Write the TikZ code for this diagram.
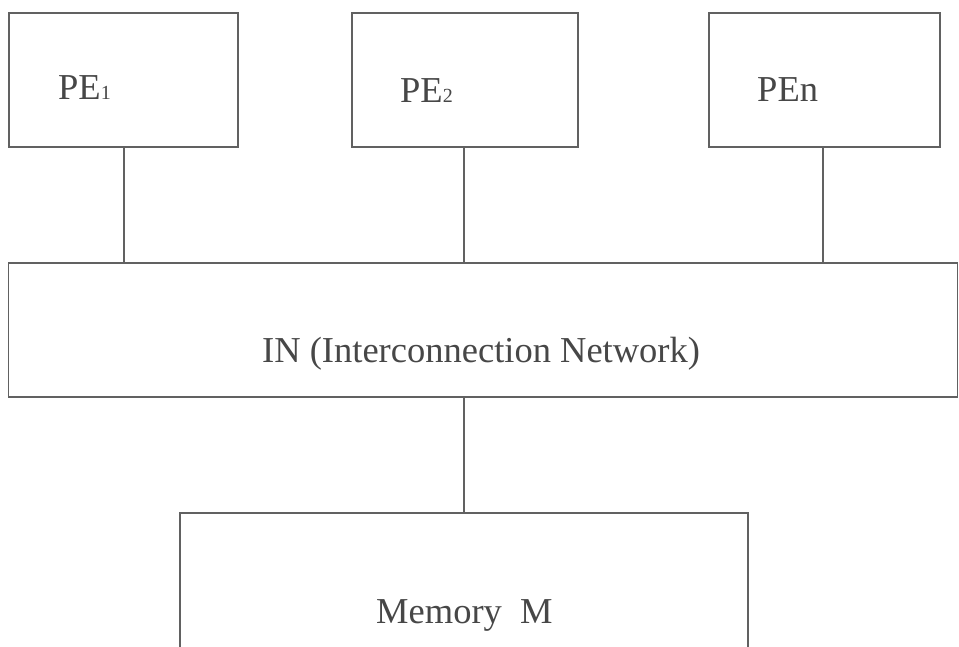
\documentclass[tikz,border=0pt]{standalone}
\usepackage{fontspec}
\setmainfont{Liberation Serif}
\begin{document}
\begin{tikzpicture}[x=1pt,y=1pt,
  box/.style={draw=black!62,line width=1.4pt,inner sep=0pt},
  lbl/.style={anchor=base west,inner sep=0pt,text=black!72,font=\fontsize{36.5}{40}\selectfont},
  wire/.style={draw=black!62,line width=1.2pt},
  sub/.style={}]
\clip (0,0) rectangle (959,646);
\fill[white] (0,0) rectangle (959,646);
% boxes (y = 646 - image y)
\node[box,minimum width=229pt,minimum height=134pt] (pe1) at (123.5,566) {};
\node[box,minimum width=226pt,minimum height=134pt] (pe2) at (465,566) {};
\node[box,minimum width=231pt,minimum height=134pt] (pen) at (824.5,566) {};
\node[box,minimum width=949pt,minimum height=134pt] (in) at (483,316) {};
\node[box,minimum width=568pt,minimum height=150pt] (mem) at (464,58) {};
% labels
\node[lbl] (t1) at (58,546) {PE{\fontsize{20}{20}\selectfont 1}};
\node[lbl] (t2) at (400,543) {PE{\fontsize{20}{20}\selectfont 2}};
\node[lbl] (tn) at (757,544) {PEn};
\node[lbl] (tin) at (262,283) {IN (Interconnection Network)};
\node[lbl] (tmem) at (376,23) {Memory~~M};
% connectors
\draw[wire] (pe1.south -| 124,0) -- (in.north -| 124,0);
\draw[wire] (pe2.south -| 464,0) -- (in.north -| 464,0);
\draw[wire] (pen.south -| 823,0) -- (in.north -| 823,0);
\draw[wire] (in.south -| 464,0) -- (mem.north);
\end{tikzpicture}
\end{document}
